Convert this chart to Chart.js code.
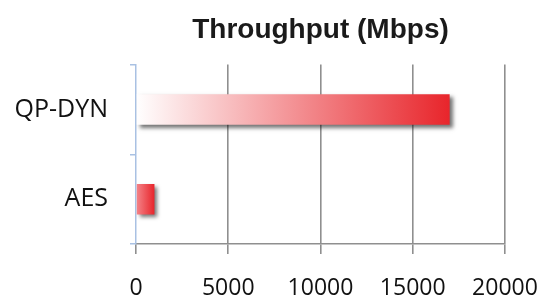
<!DOCTYPE html>
<html>
<head>
<meta charset="utf-8">
<script src="https://cdn.jsdelivr.net/npm/chart.js@4"></script>
<style>
  html, body { margin: 0; padding: 0; background: #fff; }
  #wrap { width: 544px; height: 296px; }
</style>
</head>
<body>
<div id="wrap"><canvas id="bar"></canvas></div>
<script>
const categories = ['QP-DYN', 'AES'];
const throughput = [17000, 1000];
const xTicks = [0, 5000, 10000, 15000, 20000];

// bar gradient: white -> red across each bar
const barFill = (ctx) => {
  const chart = ctx.chart;
  if (!chart.chartArea) return '#e8252b';
  const x0 = chart.scales.x.getPixelForValue(0);
  const x1 = chart.scales.x.getPixelForValue(ctx.raw);
  const g = chart.ctx.createLinearGradient(x0, 0, x1, 0);
  g.addColorStop(0, (x1 - x0) < 50 ? '#f4868b' : '#ffffff');
  g.addColorStop(1, '#e8252b');
  return g;
};

const barShadow = {
  id: 'barShadow',
  beforeDatasetsDraw(chart) {
    const c = chart.ctx;
    c.save();
    c.shadowColor = 'rgba(0,0,0,0.55)';
    c.shadowBlur = 4;
    c.shadowOffsetX = 3;
    c.shadowOffsetY = 3;
  },
  afterDatasetsDraw(chart) {
    chart.ctx.restore();
  }
};

const bar = document.getElementById('bar');

new Chart(bar, {
  type: 'bar',
  data: {
    labels: categories,
    datasets: [{
      label: 'Throughput (Mbps)',
      data: throughput,
      backgroundColor: barFill,
      borderWidth: 0,
      categoryPercentage: 1,
      barPercentage: 0.34
    }]
  },
  plugins: [barShadow],
  options: {
    indexAxis: 'y',
    responsive: true,
    maintainAspectRatio: false,
    animation: false,
    layout: { padding: { left: 0, right: 39, top: 0, bottom: 0 } },
    plugins: {
      legend: { display: false },
      tooltip: { enabled: false },
      title: {
        display: true,
        text: 'Throughput (Mbps)',
        fullSize: false,
        color: '#1a1a1a',
        font: { family: 'Liberation Sans', size: 28, weight: 'bold' },
        padding: { top: 13, bottom: 18 }
      }
    },
    scales: {
      x: {
        min: 0,
        max: 20000,
        afterBuildTicks: (scale) => { scale.ticks = xTicks.map(v => ({ value: v })); },
        afterFit: (scale) => {
          scale.height = 52;
          scale.paddingLeft = 0;
          scale.paddingRight = 0;
        },
        grid: {
          color: (c) => c.index === 0 ? 'rgba(0,0,0,0)' : '#8f8f8f',
          tickColor: '#8f8f8f',
          lineWidth: 1.6,
          tickLength: 10
        },
        border: { color: '#8f8f8f', width: 1.6 },
        ticks: {
          color: '#111',
          padding: 21,
          callback: (v) => String(v),
          font: { family: 'Open Sans', size: 23 }
        }
      },
      y: {
        afterFit: (scale) => { scale.width = 136; },
        grid: {
          drawOnChartArea: false,
          color: '#a9c1e3',
          tickLength: 6,
          lineWidth: 1.5
        },
        border: { color: '#a9c1e3', width: 1.5 },
        ticks: {
          color: '#111',
          padding: 22,
          font: { family: 'Open Sans', size: 25 }
        }
      }
    }
  }
});
</script>
</body>
</html>
